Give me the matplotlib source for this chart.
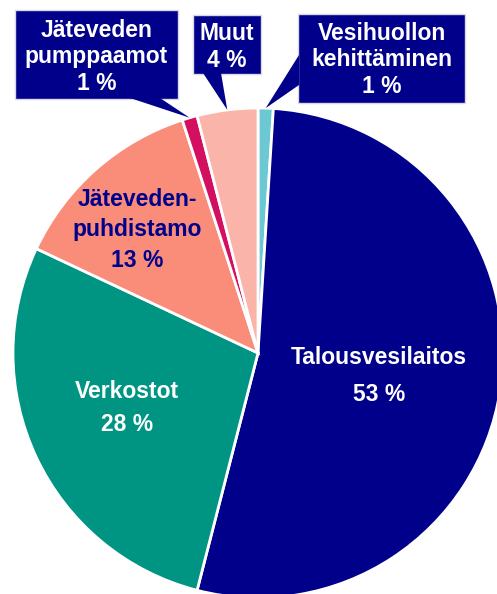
import matplotlib as mpl
import numpy as np
from matplotlib import pyplot as plt

NAVY = '#00008A'

shares = [1, 53, 28, 13, 1, 4]
names = ['Vesihuollon\nkehittäminen', 'Talousvesilaitos', 'Verkostot',
         'Jäteveden-\npuhdistamo', 'Jäteveden\npumppaamot', 'Muut']
colors = ['#6CC8D2', NAVY, '#009582', '#FA8C7A', '#D2105F', '#FBB4A9']

# Converts a pixel position of the 497x594 picture to pie coordinates
def px(x, y):
    return ((x - 258) / 245.0, (353 - y) / 245.0)

def setup_figure(fig_num=1):
    mpl.rcParams['font.family'] = ['Liberation Sans', 'DejaVu Sans']
    mpl.rcParams['font.weight'] = 'bold'
    mpl.rcParams['font.size'] = 16.5
    plt.figure(fig_num, figsize=(4.97, 5.94), dpi=100)
    plt.clf()
    plt.axes([0, 0, 1, 1])

# Draws a navy callout box with a pointer to the middle of a wedge
def draw_callout(wedge, text, box, base, text_y):
    mid = np.deg2rad((wedge.theta1 + wedge.theta2) / 2.0)
    tip = (np.cos(mid) * wedge.r, np.sin(mid) * wedge.r)
    x0, y0 = px(box[0], box[1])
    x1, y1 = px(box[2], box[3])
    plt.fill([x0, x1, x1, x0], [y0, y0, y1, y1], fc=NAVY, ec='#d8d8e8', lw=1, zorder=3)
    b1, b2 = px(*base[0]), px(*base[1])
    plt.fill([b1[0], tip[0], b2[0]], [b1[1], tip[1], b2[1]], color=NAVY, lw=0, zorder=4)
    plt.text(*px((box[0] + box[2]) / 2.0, text_y), text, ha='center', va='center',
             color='white', linespacing=1.22, zorder=5)

# Draws the cost share pie with labels inside and in callouts
def draw_pie(shares, names, colors):
    wedges, _ = plt.pie(shares, colors=colors, startangle=90, counterclock=False,
                        wedgeprops=dict(edgecolor='white', linewidth=2))
    plt.xlim(px(0, 0)[0], px(497, 0)[0])
    plt.ylim(px(0, 594)[1], px(0, 0)[1])
    plt.gca().set_aspect('auto')

    plt.text(*px(379, 376), '%s\n%d %%' % (names[1], shares[1]), color='white',
             ha='center', va='center', linespacing=1.75)
    plt.text(*px(127, 408), '%s\n%d %%' % (names[2], shares[2]), color='white',
             ha='center', va='center', linespacing=1.6)
    plt.text(*px(137, 230), '%s\n%d %%' % (names[3], shares[3]), color=NAVY,
             ha='center', va='center', linespacing=1.42)

    draw_callout(wedges[4], '%s\n%d %%' % (names[4], shares[4]), (15, 10, 178, 99),
                 [(130, 98), (160, 98)], 57)
    draw_callout(wedges[5], '%s\n%d %%' % (names[5], shares[5]), (193, 15, 261, 74),
                 [(203, 73), (221, 73)], 47)
    draw_callout(wedges[0], '%s\n%d %%' % (names[0], shares[0]), (298, 14, 465, 103),
                 [(299, 55), (299, 85)], 60)

setup_figure()
draw_pie(shares, names, colors)
plt.savefig('out.png', dpi=100)
